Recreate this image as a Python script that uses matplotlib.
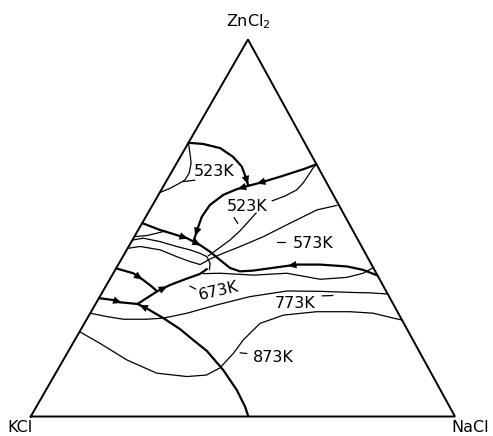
import matplotlib.pyplot as plt
import numpy as np

# KCl-NaCl-ZnCl2 liquidus: points are (NaCl, ZnCl2) mole fractions,
# KCl is whatever is left over.

# univariant (boundary) lines
top_valley_nacl = [0.000, 0.036, 0.082, 0.124, 0.158, 0.184, 0.198]
top_valley_zncl2 = [0.726, 0.723, 0.712, 0.689, 0.663, 0.632, 0.614]

nacl_valley_nacl = [0.331, 0.307, 0.262, 0.220, 0.200, 0.177, 0.153, 0.135, 0.132, 0.137, 0.143, 0.146]
nacl_valley_zncl2 = [0.669, 0.656, 0.636, 0.619, 0.612, 0.603, 0.588, 0.561, 0.530, 0.504, 0.477, 0.464]

mid_valley_nacl = [0.000, 0.051, 0.126, 0.166, 0.199, 0.234, 0.268, 0.296, 0.326, 0.385, 0.421, 0.475, 0.542, 0.584, 0.626]
mid_valley_zncl2 = [0.513, 0.495, 0.473, 0.455, 0.437, 0.415, 0.394, 0.385, 0.387, 0.397, 0.403, 0.403, 0.398, 0.389, 0.374]

low_valley_nacl = [0.099, 0.128, 0.150, 0.181, 0.205, 0.215]
low_valley_zncl2 = [0.2985, 0.332, 0.349, 0.366, 0.378, 0.391]

side_valley_nacl = [0.000, 0.047, 0.080, 0.110, 0.128]
side_valley_zncl2 = [0.393, 0.380, 0.362, 0.344, 0.332]

kcl_valley_nacl = [0.000, 0.036, 0.055, 0.099]
kcl_valley_zncl2 = [0.314, 0.309, 0.303, 0.2985]

kcl_nacl_valley_nacl = [0.099, 0.126, 0.179, 0.233, 0.279, 0.326, 0.391, 0.450, 0.492, 0.513]
kcl_nacl_valley_zncl2 = [0.2985, 0.287, 0.261, 0.232, 0.203, 0.174, 0.123, 0.070, 0.026, 0.000]

# isotherms
iso523_loop_nacl = [0.000, 0.018, 0.034, 0.043, 0.042, 0.032, 0.018, 0.000]
iso523_loop_zncl2 = [0.726, 0.698, 0.672, 0.645, 0.627, 0.617, 0.605, 0.594]

iso523_upper_nacl = [0.331, 0.328, 0.327, 0.325, 0.319, 0.300, 0.276]
iso523_upper_zncl2 = [0.669, 0.659, 0.643, 0.620, 0.601, 0.585, 0.572]

iso523_lower_nacl = [0.255, 0.248, 0.241, 0.230, 0.212, 0.200]
iso523_lower_zncl2 = [0.540, 0.516, 0.492, 0.468, 0.442, 0.426]

branch_nacl = [0.000, 0.028, 0.048, 0.065]
branch_zncl2 = [0.477, 0.480, 0.486, 0.492]

tongue_nacl = [0.000, 0.023, 0.067, 0.113, 0.149, 0.177, 0.198, 0.215, 0.222]
tongue_zncl2 = [0.468, 0.473, 0.464, 0.451, 0.442, 0.433, 0.424, 0.406, 0.389]

iso573_nacl = [0.000, 0.027, 0.079, 0.127, 0.165, 0.193, 0.209, 0.232, 0.263, 0.304, 0.349, 0.394, 0.435]
iso573_zncl2 = [0.446, 0.451, 0.442, 0.424, 0.411, 0.403, 0.418, 0.433, 0.451, 0.477, 0.513, 0.548, 0.560]

iso673_nacl = [0.605, 0.589, 0.556, 0.496, 0.409, 0.333, 0.252, 0.212]
iso673_zncl2 = [0.395, 0.380, 0.369, 0.364, 0.380, 0.375, 0.380, 0.379]

iso773_nacl = [0.000, 0.044, 0.086, 0.141, 0.179, 0.228, 0.287, 0.354, 0.434, 0.512, 0.591, 0.632, 0.675]
iso773_zncl2 = [0.274, 0.265, 0.258, 0.258, 0.261, 0.274, 0.296, 0.318, 0.333, 0.332, 0.329, 0.328, 0.325]

iso873_nacl = [0.000, 0.064, 0.150, 0.238, 0.314, 0.358, 0.380, 0.392, 0.397, 0.414, 0.458, 0.532, 0.610, 0.667, 0.721, 0.744]
iso873_zncl2 = [0.225, 0.194, 0.150, 0.115, 0.106, 0.110, 0.129, 0.168, 0.203, 0.247, 0.269, 0.278, 0.278, 0.274, 0.261, 0.256]

APEX_X = 0.512  # horizontal position of the ZnCl2 corner


def project(nacl, zncl2):
    n = np.asarray(nacl, dtype=float)
    z = np.asarray(zncl2, dtype=float)
    return n + APEX_X * z, z


def curve(ax, nacl, zncl2, lw):
    x, y = project(nacl, zncl2)
    ax.plot(x, y, color="k", lw=lw, solid_capstyle="round", solid_joinstyle="round")


def arrow(ax, nacl, zncl2, i, t=0.6, back=False):
    x, y = project(nacl, zncl2)
    p0 = np.array([x[i], y[i]])
    p1 = np.array([x[i + 1], y[i + 1]])
    d = (p1 - p0) / np.hypot(*(p1 - p0)) * 0.01
    if back:
        d = -d
    mid = p0 + t * (p1 - p0)
    ax.annotate("", xy=mid + d, xytext=mid - d,
                arrowprops=dict(arrowstyle="-|>,head_length=0.7,head_width=0.3",
                                color="k", lw=0, shrinkA=0, shrinkB=0,
                                mutation_scale=9))


fig = plt.figure(figsize=(4.93, 4.36), dpi=100)
ax = fig.add_axes([0.0623, 0.0447, 0.8606, 0.8647])
ax.set_xlim(0, 1)
ax.set_ylim(0, 1)
ax.axis("off")

# triangle
tx, ty = project([0, 1, 0, 0], [0, 0, 1, 0])
ax.plot(tx, ty, color="k", lw=1.4, solid_joinstyle="miter", clip_on=False)

heavy = 1.6
thin = 0.9
curve(ax, top_valley_nacl, top_valley_zncl2, heavy)
curve(ax, nacl_valley_nacl, nacl_valley_zncl2, heavy)
curve(ax, mid_valley_nacl, mid_valley_zncl2, heavy)
curve(ax, low_valley_nacl, low_valley_zncl2, heavy)
curve(ax, side_valley_nacl, side_valley_zncl2, heavy)
curve(ax, kcl_valley_nacl, kcl_valley_zncl2, heavy)
curve(ax, kcl_nacl_valley_nacl, kcl_nacl_valley_zncl2, heavy)

for n, z in [(iso523_loop_nacl, iso523_loop_zncl2),
             (iso523_upper_nacl, iso523_upper_zncl2),
             (iso523_lower_nacl, iso523_lower_zncl2),
             (branch_nacl, branch_zncl2),
             (tongue_nacl, tongue_zncl2),
             (iso573_nacl, iso573_zncl2),
             (iso673_nacl, iso673_zncl2),
             (iso773_nacl, iso773_zncl2),
             (iso873_nacl, iso873_zncl2)]:
    curve(ax, n, z, thin)

# direction of falling temperature
arrow(ax, top_valley_nacl, top_valley_zncl2, 5, t=0.4)
arrow(ax, nacl_valley_nacl, nacl_valley_zncl2, 2, t=0.9)
arrow(ax, nacl_valley_nacl, nacl_valley_zncl2, 4, t=0.6)
arrow(ax, nacl_valley_nacl, nacl_valley_zncl2, 9, t=0.6)
arrow(ax, mid_valley_nacl, mid_valley_zncl2, 1, t=0.9)
arrow(ax, mid_valley_nacl, mid_valley_zncl2, 2, t=0.8)
arrow(ax, mid_valley_nacl, mid_valley_zncl2, 9, t=0.7, back=True)
arrow(ax, low_valley_nacl, low_valley_zncl2, 1, t=0.5)
arrow(ax, side_valley_nacl, side_valley_zncl2, 1, t=0.6)
arrow(ax, kcl_valley_nacl, kcl_valley_zncl2, 1, t=0.7)
arrow(ax, kcl_nacl_valley_nacl, kcl_nacl_valley_zncl2, 0, t=0.6, back=True)

# temperature labels with their leader ticks
fs = 11.5
labels = [("523K", 0.099, 0.650, 0),
          ("523K", 0.225, 0.556, 0),
          ("573K", 0.430, 0.460, 0),
          ("673K", 0.273, 0.333, 13),
          ("773K", 0.470, 0.300, 0),
          ("873K", 0.491, 0.157, 0)]
for txt, n, z, rot in labels:
    x, y = project(n, z)
    ax.text(x, y, txt, ha="center", va="center", fontsize=fs, rotation=rot)

leaders = [((0.041, 0.066), (0.623, 0.627)),
           ((0.209, 0.226), (0.528, 0.512)),
           ((0.343, 0.362), (0.464, 0.464)),
           ((0.198, 0.216), (0.346, 0.338)),
           ((0.523, 0.548), (0.320, 0.321)),
           ((0.407, 0.424), (0.169, 0.167))]
for n, z in leaders:
    curve(ax, n, z, thin)

ax.text(APEX_X, 1.048, "ZnCl$_2$", ha="center", va="center", fontsize=fs, clip_on=False)
ax.text(-0.025, -0.028, "KCl", ha="center", va="center", fontsize=fs, clip_on=False)
ax.text(1.035, -0.028, "NaCl", ha="center", va="center", fontsize=fs, clip_on=False)

fig.savefig("out.png", dpi=100)
